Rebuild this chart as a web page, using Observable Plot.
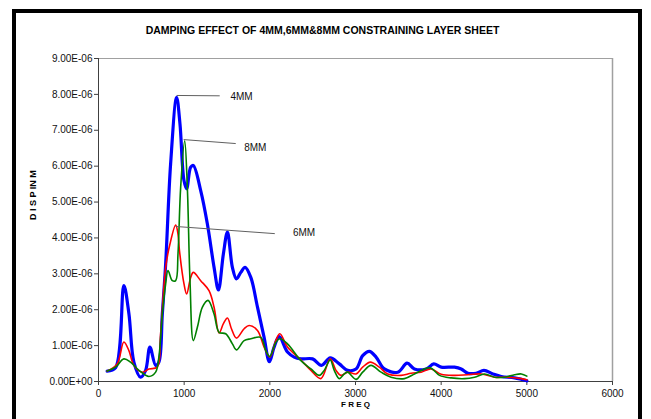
<!DOCTYPE html>
<html><head><meta charset="utf-8">
<script src="https://cdn.jsdelivr.net/npm/d3@7"></script>
<script src="https://cdn.jsdelivr.net/npm/@observablehq/plot@0.6"></script>
<style>
body{margin:0;background:#fff;}
#wrap{position:relative;width:651px;height:419px;overflow:hidden;}
#wrap svg{position:absolute;left:0;top:0;}
#border{position:absolute;left:12px;top:9px;width:622px;height:440px;border:4px solid #000;pointer-events:none;}
</style></head><body><div id="wrap"></div>
<script>
const title = "DAMPING EFFECT OF 4MM,6MM&8MM CONSTRAINING LAYER SHEET";
const xLabel = "F R E Q";
const yLabel = "D I S P IN M";
const xTicks = [0, 1000, 2000, 3000, 4000, 5000, 6000];
const yTicks = [0, 1, 2, 3, 4, 5, 6, 7, 8, 9]; // units of 1E-06

// 4MM (blue)
const freq4 = [101,199,296,355,413,491,550,600,667,705,745,784,842,912,951,998,1029,1076,1107,1193,1271,1349,1400,1458,1505,1563,1610,1661,1711,1778,1856,1933,1995,2050,2109,2206,2284,2363,2499,2604,2705,2811,2908,3006,3084,3162,3240,3337,3494,3602,3688,3825,3914,4000,4156,4234,4312,4409,4499,4605,4702,4857,5000];
const disp4 = [0.29,0.38,2.67,1.89,0.54,0.12,0.31,0.96,0.45,0.54,1.88,3.28,6.07,7.92,7.18,5.60,5.37,5.97,6.02,5.32,4.39,3.18,2.55,3.56,4.16,3.18,2.86,3.04,3.18,2.90,2.07,1.23,0.55,0.96,1.25,0.82,0.68,0.63,0.63,0.45,0.66,0.49,0.31,0.35,0.72,0.84,0.68,0.35,0.26,0.51,0.35,0.35,0.49,0.40,0.40,0.35,0.23,0.23,0.31,0.21,0.14,0.10,0.02];

// 6MM (red)
const freq6 = [101,218,296,355,413,511,589,686,725,784,834,901,928,945,998,1029,1076,1107,1193,1290,1349,1407,1458,1505,1552,1610,1700,1758,1856,1933,2000,2070,2117,2206,2363,2480,2596,2705,2772,2830,2908,3006,3084,3173,3278,3376,3532,3649,3766,3883,4000,4156,4312,4468,4624,4780,4936,5000];
const disp6 = [0.29,0.49,1.10,0.86,0.45,0.26,0.35,0.40,1.33,3.18,3.83,4.36,4.11,3.65,2.72,2.44,2.90,3.04,2.81,2.53,2.07,1.35,1.61,1.77,1.47,1.21,1.47,1.56,1.42,0.96,0.68,1.14,1.33,0.96,0.60,0.31,0.08,0.63,0.31,0.17,0.26,0.21,0.40,0.54,0.40,0.21,0.17,0.23,0.26,0.35,0.20,0.17,0.19,0.21,0.12,0.12,0.08,0.05];

// 8MM (green)
const freq8 = [101,199,296,374,472,589,667,705,745,784,811,862,901,928,959,1006,1037,1068,1107,1154,1213,1279,1349,1407,1485,1563,1610,1700,1778,1895,1953,2000,2070,2117,2206,2363,2480,2577,2635,2705,2752,2811,2869,2908,3006,3084,3181,3298,3415,3571,3688,3786,3875,3981,4117,4273,4390,4507,4624,4741,4857,4936,5000];
const disp8 = [0.29,0.40,0.63,0.54,0.31,0.14,0.26,0.68,1.88,2.72,3.09,2.81,2.81,3.56,5.41,6.71,5.41,2.81,1.14,1.51,2.07,2.26,1.88,1.37,1.33,1.05,0.88,1.14,1.19,1.23,0.86,0.70,1.09,1.19,1.05,0.58,0.35,0.17,0.31,0.60,0.31,0.08,0.21,0.26,0.06,0.26,0.45,0.26,0.12,0.08,0.21,0.33,0.38,0.17,0.10,0.08,0.12,0.21,0.12,0.12,0.19,0.21,0.15];

// annotation leader lines and labels
const annoLabels = ["4MM", "8MM", "6MM"];
const annoX1 = [912, 994, 900];
const annoY1 = [7.97, 6.74, 4.32];
const annoX2 = [1415, 1602, 2058];
const annoY2 = [7.96, 6.63, 4.12];
const annoTX = [1540, 1700, 2270];
const annoTY = [7.93, 6.52, 4.15];

const toRows = (f, v) => f.map((x, i) => ({x, y: v[i]}));
const s4 = toRows(freq4, disp4), s6 = toRows(freq6, disp6), s8 = toRows(freq8, disp8);
const anno = annoLabels.map((t, i) => ({t, x1: annoX1[i], y1: annoY1[i], x2: annoX2[i], y2: annoY2[i], tx: annoTX[i], ty: annoTY[i]}));
const fmtY = d => d === 0 ? "0.00E+00" : d.toFixed(2) + "E-06";

const chart = Plot.plot({
  width: 651, height: 419,
  marginLeft: 98, marginRight: 39, marginTop: 58, marginBottom: 38,
  style: {fontFamily: "'Liberation Sans', Arial, sans-serif", fontSize: "10px", color: "#000", background: "transparent", overflow: "visible"},
  x: {domain: [0, 6000]},
  y: {domain: [0, 9]},
  marks: [
    Plot.ruleY([9], {stroke: "#a0a0a0", strokeWidth: 1}),
    Plot.ruleX([6000], {stroke: "#a0a0a0", strokeWidth: 1.5}),
    Plot.ruleX([0], {stroke: "#404040", strokeWidth: 1}),
    Plot.ruleY([0], {stroke: "#404040", strokeWidth: 1}),
    Plot.axisY({ticks: yTicks, tickFormat: fmtY, tickSize: 4, tickPadding: 2, label: null, stroke: "#404040", fill: "#111"}),
    Plot.axisX({ticks: xTicks, tickFormat: d => String(d), tickSize: 4, tickPadding: 4, label: null, stroke: "#404040", fill: "#111"}),
    Plot.line(s4, {x: "x", y: "y", stroke: "#0000ff", strokeWidth: 3.2, curve: "catmull-rom"}),
    Plot.line(s6, {x: "x", y: "y", stroke: "#ff0000", strokeWidth: 1.6, curve: "catmull-rom"}),
    Plot.line(s8, {x: "x", y: "y", stroke: "#008000", strokeWidth: 1.6, curve: "catmull-rom"}),
    Plot.link(anno, {x1: "x1", y1: "y1", x2: "x2", y2: "y2", stroke: "#606060", strokeWidth: 1}),
    Plot.text(anno, {x: "tx", y: "ty", text: "t", textAnchor: "start", fontSize: 10, fill: "#111"}),
    Plot.text([title], {frameAnchor: "top", dx: -33, dy: -32, fontWeight: "bold", fontSize: 10.5, fill: "#000"}),
    Plot.text([xLabel], {frameAnchor: "bottom", dy: 25, fontWeight: "bold", fontSize: 8, fill: "#000"}),
    Plot.text([yLabel], {frameAnchor: "left", dx: -65, rotate: -90, fontWeight: "bold", fontSize: 9, fill: "#000"})
  ]
});
const wrap = document.getElementById("wrap");
wrap.appendChild(chart);
const b = document.createElement("div");
b.id = "border";
wrap.appendChild(b);
</script>
</body></html>
